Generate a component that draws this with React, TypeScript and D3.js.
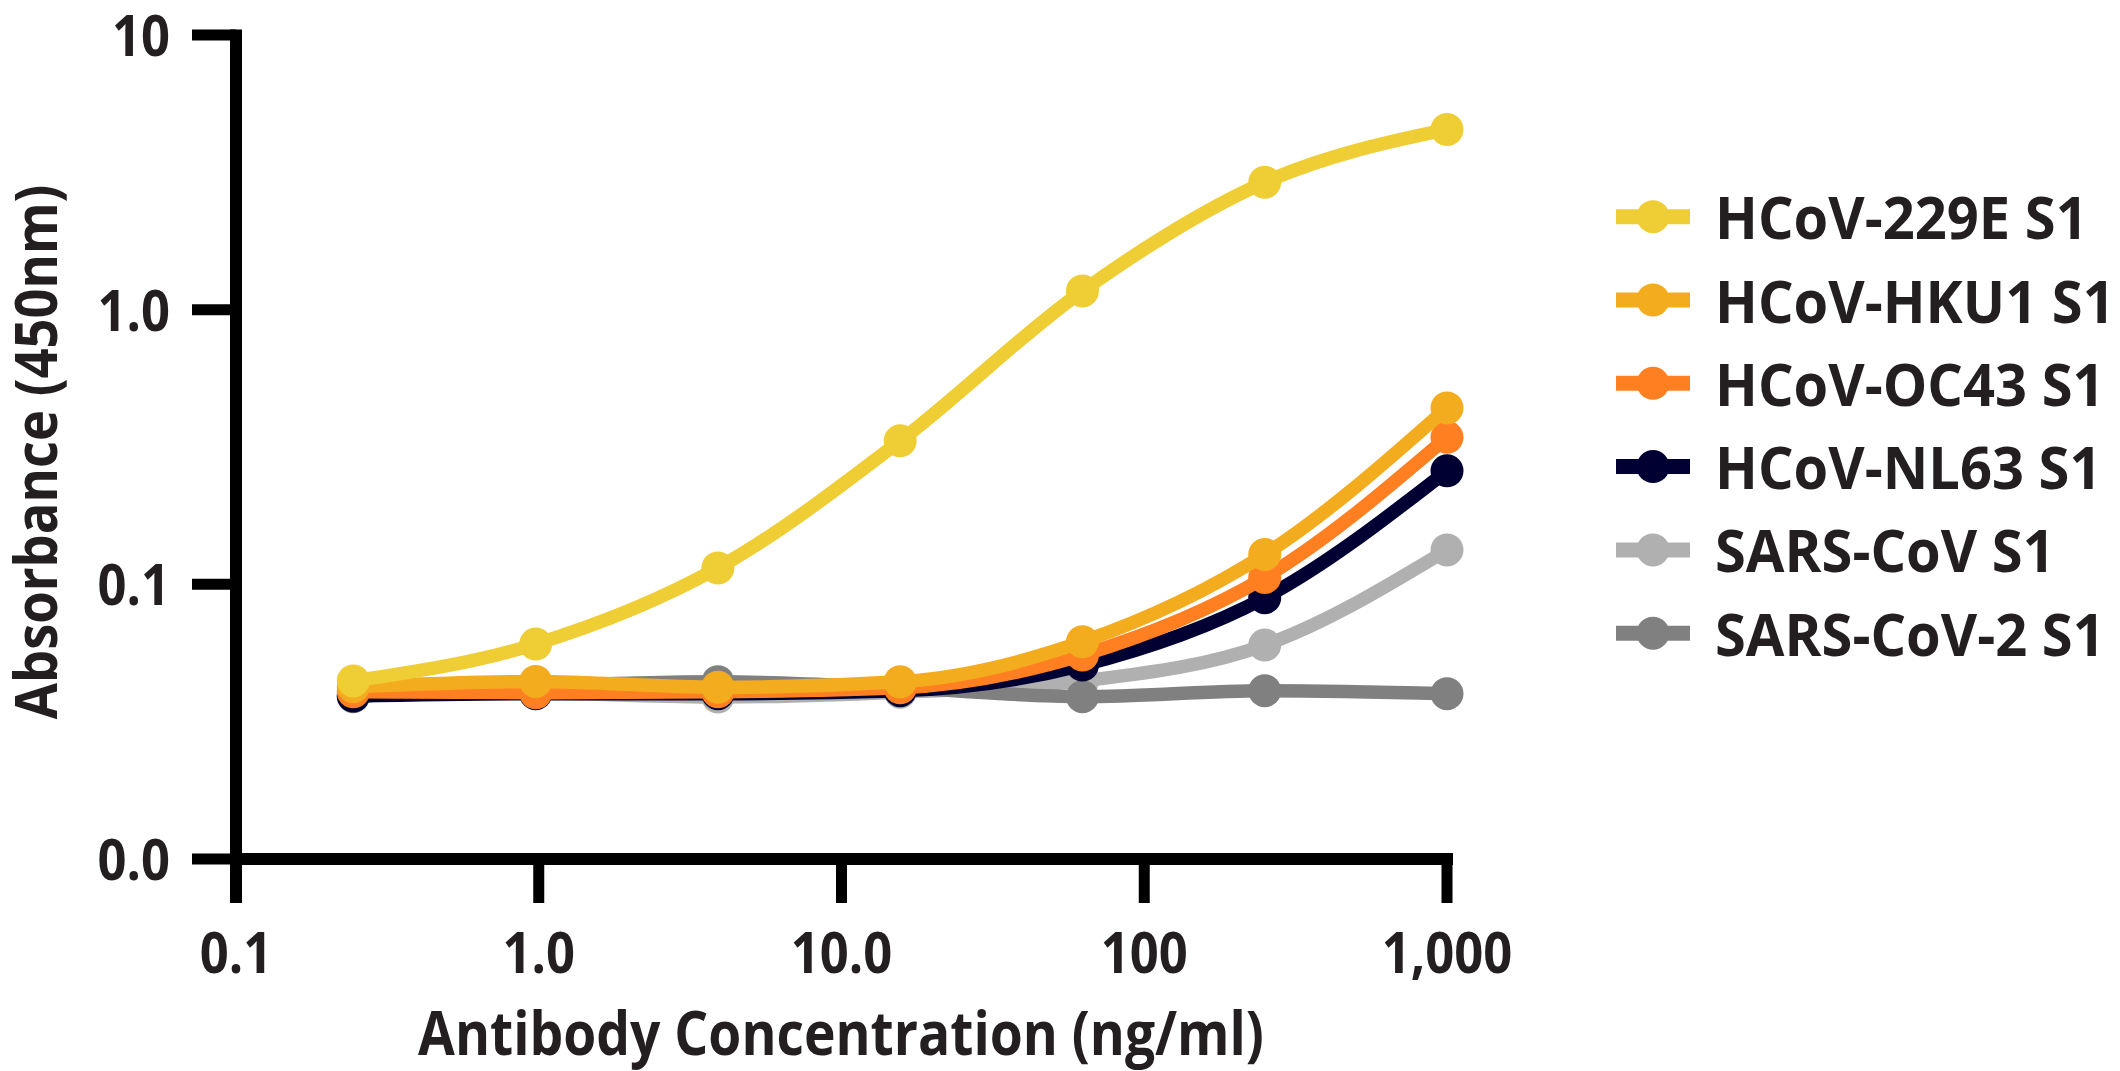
import React from "react";
import * as d3 from "d3";

const concentrations = [0.244, 0.977, 3.906, 15.625, 62.5, 250, 1000];

const seriesNames = [
  "HCoV-229E S1",
  "HCoV-HKU1 S1",
  "HCoV-OC43 S1",
  "HCoV-NL63 S1",
  "SARS-CoV S1",
  "SARS-CoV-2 S1",
];
const seriesColors = ["#EFCE35", "#F4AC1F", "#FF7F21", "#000033", "#B0B0B0", "#808080"];

const hcov229E = [0.0445, 0.0606, 0.1147, 0.333, 1.17, 2.91, 4.53];
const hcovHKU1 = [0.0424, 0.0443, 0.0422, 0.0442, 0.0618, 0.1285, 0.4385];
const hcovOC43 = [0.0406, 0.0403, 0.0406, 0.042, 0.0553, 0.106, 0.343];
const hcovNL63 = [0.0392, 0.04, 0.04, 0.041, 0.0508, 0.0894, 0.259];
const sarsCoV = [0.0395, 0.0401, 0.0389, 0.0405, 0.0445, 0.0601, 0.1334];
const sarsCoV2 = [0.039, 0.0425, 0.0442, 0.042, 0.039, 0.041, 0.04];

const seriesValues = [hcov229E, hcovHKU1, hcovOC43, hcovNL63, sarsCoV, sarsCoV2];
// drawing order (back to front)
const drawOrder = [4, 5, 3, 2, 1, 0];

const xTickValues = [0.1, 1, 10, 100, 1000];
const xTickLabels = ["0.1", "1.0", "10.0", "100", "1,000"];
const yTickValues = [10, 1, 0.1, 0.01];
const yTickLabels = ["10", "1.0", "0.1", "0.0"];

const xTitle = "Antibody Concentration (ng/ml)";
const yTitle = "Absorbance (450nm)";

const W = 2120;
const H = 1071;
const FONT = "'Open Sans', 'Noto Sans', sans-serif";
const TEXT = "#231F20";

function SqText({ x, y, anchor, size, children, rotate = 0, sq = 0.89 }: any) {
  return (
    <g transform={`translate(${x},${y}) rotate(${rotate}) scale(${sq},1)`}>
      <text
        x={0}
        y={0}
        textAnchor={anchor}
        fontFamily={FONT}
        fontWeight={700}
        fontSize={size}
        fill={TEXT}
      >
        {children}
      </text>
    </g>
  );
}

export default function App() {
  const x = d3.scaleLog().domain([0.1, 1000]).range([236, 1447]);
  const y = d3.scaleLog().domain([0.01, 10]).range([859, 35]);

  const line = d3
    .line<number>()
    .x((_, i) => x(concentrations[i]))
    .y((d) => y(d))
    .curve(d3.curveMonotoneX);

  const axisW = 12;
  const tickW = 11;
  const yAxisX = x(0.1);
  const xAxisY = y(0.01);
  const tickBottom = 903;
  const tickLeft = 192;

  const legendX0 = 1616;
  const legendX1 = 1690;
  const legendY0 = 216.7;
  const legendStep = 83.3;

  return (
    <svg
      width={W}
      height={H}
      style={{ position: "absolute", left: 0, top: 0, background: "#fff" }}
    >
      {/* data */}
      {drawOrder.map((si) => (
        <g key={si}>
          <path
            d={line(seriesValues[si]) || ""}
            fill="none"
            stroke={seriesColors[si]}
            strokeWidth={13.5}
          />
          {seriesValues[si].map((v, i) => (
            <circle
              key={i}
              cx={x(concentrations[i])}
              cy={y(v)}
              r={16.5}
              fill={seriesColors[si]}
            />
          ))}
        </g>
      ))}

      {/* y axis */}
      <line
        x1={yAxisX}
        x2={yAxisX}
        y1={y(10) - tickW / 2}
        y2={tickBottom}
        stroke="#000"
        strokeWidth={axisW}
      />
      {yTickValues.map((v, i) => (
        <g key={i}>
          <line x1={tickLeft} x2={yAxisX} y1={y(v)} y2={y(v)} stroke="#000" strokeWidth={tickW} />
          <SqText x={170} y={y(v) + 21} anchor="end" size={57}>
            {yTickLabels[i]}
          </SqText>
        </g>
      ))}

      {/* x axis */}
      <line
        x1={yAxisX - axisW / 2}
        x2={x(1000) + axisW / 2}
        y1={xAxisY}
        y2={xAxisY}
        stroke="#000"
        strokeWidth={axisW}
      />
      {xTickValues.map((v, i) => (
        <g key={i}>
          <line x1={x(v)} x2={x(v)} y1={xAxisY} y2={tickBottom} stroke="#000" strokeWidth={tickW} />
          <SqText x={x(v)} y={973} anchor="middle" size={57}>
            {xTickLabels[i]}
          </SqText>
        </g>
      ))}

      {/* axis titles */}
      <SqText x={841} y={1055} anchor="middle" size={60}>
        {xTitle}
      </SqText>
      <SqText x={57} y={452} anchor="middle" size={59} rotate={-90}>
        {yTitle}
      </SqText>

      {/* legend */}
      {seriesNames.map((name, i) => {
        const cy = legendY0 + i * legendStep;
        return (
          <g key={i}>
            <line x1={legendX0} x2={legendX1} y1={cy} y2={cy} stroke={seriesColors[i]} strokeWidth={15} />
            <circle cx={(legendX0 + legendX1) / 2} cy={cy} r={16.5} fill={seriesColors[i]} />
            <SqText x={1715} y={cy + 22.5} anchor="start" size={59} sq={0.95}>
              {name}
            </SqText>
          </g>
        );
      })}
    </svg>
  );
}
